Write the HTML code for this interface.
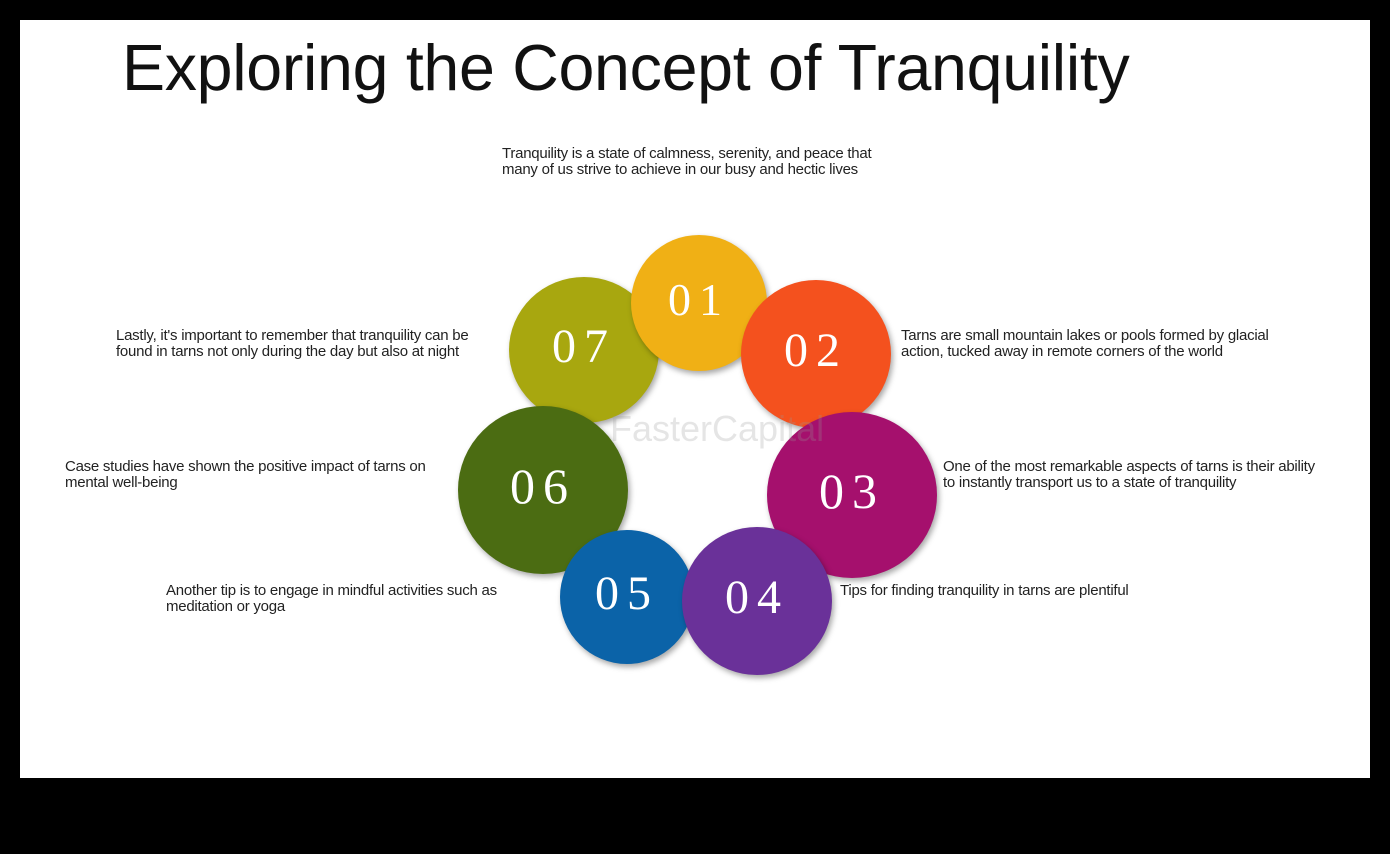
<!DOCTYPE html>
<html><head><meta charset="utf-8"><style>
body{margin:0;width:1390px;height:854px;background:#000;position:relative;overflow:hidden;font-family:"Liberation Sans",sans-serif}
#s{position:absolute;left:20px;top:20px;width:1350px;height:758px;background:#fff}
h1{position:absolute;left:122px;top:31px;margin:0;font-weight:normal;font-size:64.5px;color:#111;letter-spacing:-0.3px}
.t{position:absolute;font-size:15px;line-height:16px;color:#222;white-space:nowrap;letter-spacing:-0.25px}
.c{position:absolute;border-radius:50%;color:#fff;font-family:"Liberation Serif",serif;display:flex;align-items:center;justify-content:center;letter-spacing:8px;box-shadow:2px 3px 6px rgba(0,0,0,.35);padding-bottom:8px;box-sizing:border-box}
</style></head><body>
<div id="s"></div>
<h1>Exploring the Concept of Tranquility</h1>
<div class="t" style="left:502px;top:146px">Tranquility is a state of calmness, serenity, and peace that<br>many of us strive to achieve in our busy and hectic lives</div>
<div class="t" style="left:116px;top:328px">Lastly, it's important to remember that tranquility can be<br>found in tarns not only during the day but also at night</div>
<div class="t" style="left:901px;top:328px">Tarns are small mountain lakes or pools formed by glacial<br>action, tucked away in remote corners of the world</div>
<div class="t" style="left:65px;top:459px">Case studies have shown the positive impact of tarns on<br>mental well-being</div>
<div class="t" style="left:943px;top:459px">One of the most remarkable aspects of tarns is their ability<br>to instantly transport us to a state of tranquility</div>
<div class="t" style="left:166px;top:583px">Another tip is to engage in mindful activities such as<br>meditation or yoga</div>
<div class="t" style="left:840px;top:583px">Tips for finding tranquility in tarns are plentiful</div>
<div class="c" style="left:509px;top:277px;width:150px;height:146px;background:#a8a70f;font-size:48px">07</div>
<div class="c" style="left:631px;top:235px;width:136px;height:136px;background:#f0b015;font-size:46px">01</div>
<div class="c" style="left:741px;top:280px;width:150px;height:148px;background:#f4511e;font-size:48px">02</div>
<div class="c" style="left:767px;top:412px;width:170px;height:166px;background:#a5106d;font-size:50px">03</div>
<div class="c" style="left:458px;top:406px;width:170px;height:168px;background:#4b6c12;font-size:50px">06</div>
<div class="c" style="left:560px;top:530px;width:134px;height:134px;background:#0b63a8;font-size:48px">05</div>
<div class="c" style="left:682px;top:527px;width:150px;height:148px;background:#6a3199;font-size:48px">04</div>
<div style="position:absolute;left:610px;top:408px;font-size:36px;color:rgba(150,150,150,.25);font-family:'Liberation Sans',sans-serif">FasterCapital</div>
</body></html>
